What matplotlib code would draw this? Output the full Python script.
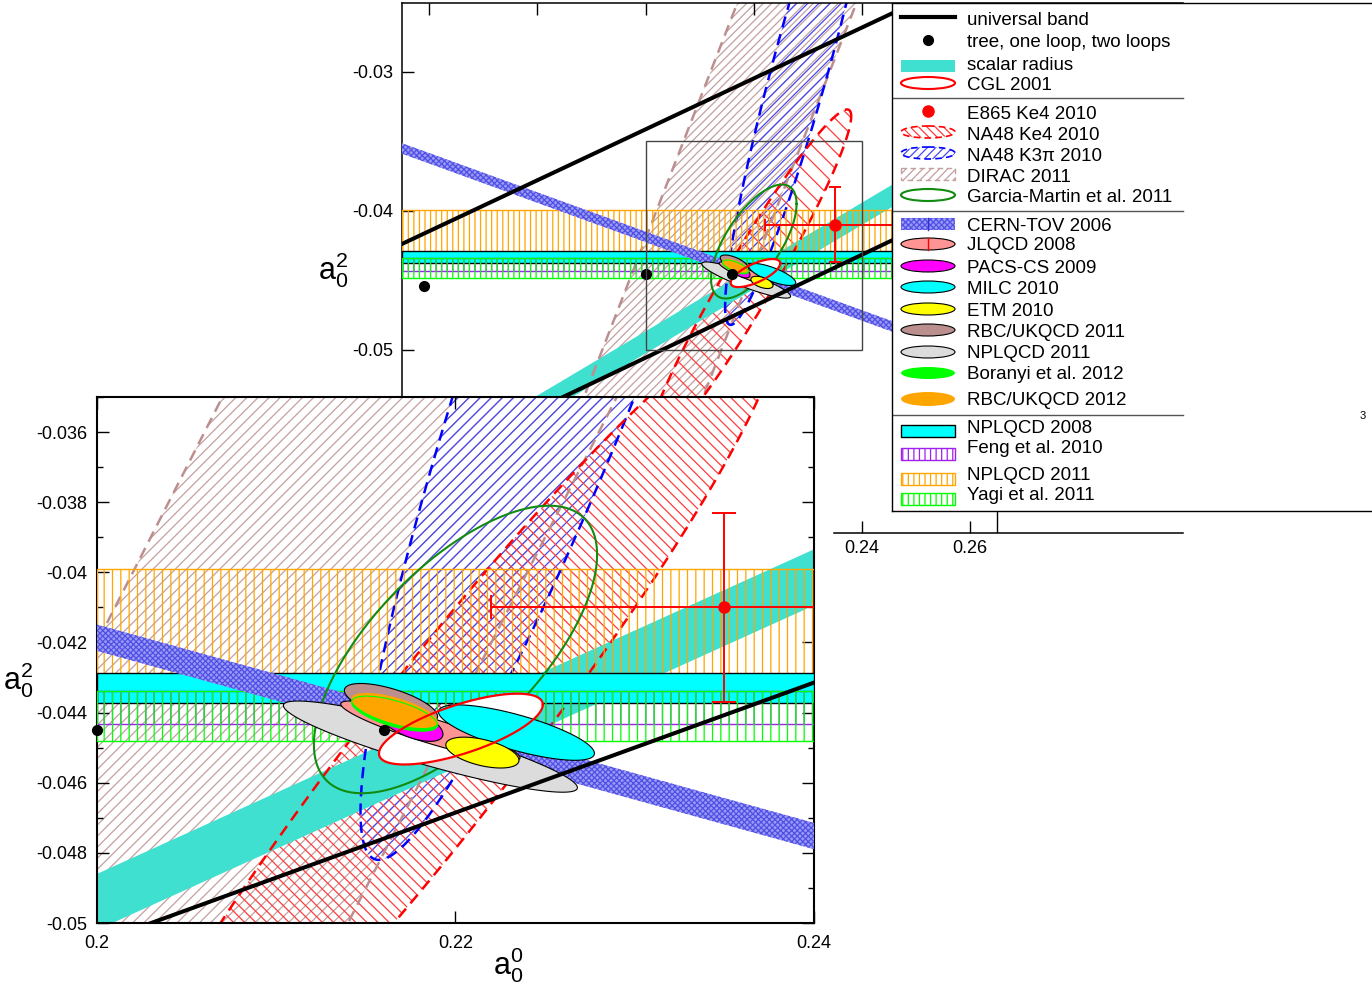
import numpy as np
import matplotlib
matplotlib.use('Agg')
import matplotlib.pyplot as plt
from matplotlib.patches import Ellipse, Rectangle
from matplotlib.ticker import MultipleLocator, FixedLocator, FuncFormatter

plt.rcParams['font.family'] = ['Liberation Sans', 'DejaVu Sans']
plt.rcParams['mathtext.fontset'] = 'custom'
plt.rcParams['mathtext.rm'] = 'Liberation Sans'
plt.rcParams['mathtext.it'] = 'Liberation Sans'
plt.rcParams['axes.unicode_minus'] = False
plt.rcParams['hatch.linewidth'] = 0.9

### Data (a0^0, a0^2)
# universal band edges, given at a0 = 0.15 and 0.30
ub_a0    = [0.15, 0.30]
ub_upper = [-0.04329, -0.01581]
ub_lower = [-0.05983, -0.03202]

# ChPT: tree, one loop, two loops
chpt_a0 = [0.159, 0.200, 0.216]
chpt_a2 = [-0.0454, -0.04451, -0.04451]

# scalar radius band
sr_a0    = [0.15, 0.30]
sr_upper = [-0.06017, -0.02546]
sr_lower = [-0.06177, -0.02706]

# CERN-TOV 2006 band
ct_a0    = [0.15, 0.30]
ct_upper = [-0.03442, -0.05563]
ct_lower = [-0.03517, -0.05638]

# DIRAC 2011: band in a0 - a2
dirac_diff = [0.242, 0.264]

# E865 Ke4 2010
e865_a0, e865_da0 = 0.235, 0.013
e865_a2, e865_da2 = -0.041, 0.0027

# ellipses: a0, da0, a2, da2, correlation
cgl       = (0.2203, 0.00457, -0.04447, 0.00101, 0.69)
garcia    = (0.2200, 0.0079, -0.0422, 0.0041, 0.66)
na48_ke4  = (0.2191, 0.0189, -0.0450, 0.0123, 0.96)
na48_k3pi = (0.2293, 0.0146, -0.0287, 0.0195, 0.93)

# lattice ellipses (drawing order)
lat_names = ['NPLQCD 2011', 'JLQCD 2008', 'RBC/UKQCD 2011', 'PACS-CS 2009',
             'Boranyi et al. 2012', 'RBC/UKQCD 2012', 'MILC 2010', 'ETM 2010']
lat_a0  = [0.2186, 0.2186, 0.2164, 0.2175, 0.2166, 0.2166, 0.2234, 0.2215]
lat_da0 = [0.0082, 0.0050, 0.0026, 0.0018, 0.0024, 0.0024, 0.00435, 0.00204]
lat_a2  = [-0.04497, -0.04452, -0.04374, -0.04431, -0.04403, -0.04394, -0.04457, -0.04514]
lat_da2 = [0.0013, 0.00085, 0.00057, 0.00051, 0.0005, 0.0005, 0.00079, 0.00044]
lat_rho = [-0.9, -0.9, -0.65, -0.6, -0.65, -0.65, -0.75, -0.5]
lat_face = ['#dcdcdc', '#ff9494', '#bc8f8f', '#ff00ff', '#00ff00', '#ffa500', '#00ffff', '#ffff00']
lat_edge = ['k', 'k', 'k', 'k', 'none', 'none', 'k', 'k']

# lattice a0^2 only (horizontal bands)
hb_names = ['NPLQCD 2008', 'Feng et al. 2010', 'NPLQCD 2011', 'Yagi et al. 2011']
hb_lo = [-0.04372, -0.04432, -0.0435, -0.04481]
hb_hi = [-0.04288, -0.04338, -0.0399, -0.04339]


def ell(p, n=400):
    x0, sx, y0, sy, r = p
    t = np.linspace(0, 2*np.pi, n)
    return x0 + sx*np.cos(t), y0 + sy*(r*np.cos(t) + np.sqrt(1 - r*r)*np.sin(t))


def draw_physics(ax, inset):
    red_h   = '\\' * 3 if inset else '\\' * 2
    blue_h  = '///'
    dirac_h = '///' if inset else '////'
    vert_h  = '||' if inset else '|||'
    dash = dict(lw=1.8, dashes=(4.5, 2.8))

    # DIRAC band
    a2 = np.array([-0.08, -0.01])
    xs = np.concatenate([a2 + dirac_diff[0], (a2 + dirac_diff[1])[::-1]])
    ys = np.concatenate([a2, a2[::-1]])
    ax.fill(xs, ys, facecolor='none', edgecolor='#c4a0a0', hatch=dirac_h, lw=0, zorder=1)
    # NA48 K3pi, NA48 Ke4
    x, y = ell(na48_k3pi)
    ax.fill(x, y, facecolor='none', edgecolor='#4848f0', hatch=blue_h, lw=0, zorder=1.1)
    x2, y2 = ell(na48_ke4)
    ax.fill(x2, y2, facecolor='none', edgecolor='#ff3c3c', hatch=red_h, lw=0, zorder=1.2)

    # scalar radius
    ax.fill_between(sr_a0, sr_lower, sr_upper, color='#40e0d0', lw=0, zorder=2)

    ax.plot(a2 + dirac_diff[0], a2, color='#bc8f8f', zorder=2.5, **dash)
    ax.plot(a2 + dirac_diff[1], a2, color='#bc8f8f', zorder=2.5, **dash)
    ax.plot(x, y, color='#0000ff', zorder=2.5, **dash)
    ax.plot(x2, y2, color='#ff0000', zorder=2.5, **dash)

    # horizontal lattice bands
    ax.axhspan(hb_lo[2], hb_hi[2], facecolor='none', edgecolor='#ffa500', hatch=vert_h, lw=1, zorder=3)
    ax.axhspan(hb_lo[0], hb_hi[0], facecolor='#00ffff', edgecolor='k', lw=1, zorder=3.1)
    ax.axhspan(hb_lo[1], hb_hi[1], facecolor='none', edgecolor='#a020f0', hatch=vert_h, lw=1, zorder=3.2)
    ax.axhspan(hb_lo[3], hb_hi[3], facecolor='none', edgecolor='#00ff00', hatch=vert_h, lw=1, zorder=3.3)

    # CERN-TOV
    ax.fill_between(ct_a0, ct_lower, ct_upper, facecolor='#9a9af4', edgecolor='#5050e6',
                    hatch='xxxxxx', lw=0, zorder=3.5)

    # Garcia-Martin
    x, y = ell(garcia)
    ax.plot(x, y, color='#118c11', lw=1.5, zorder=4)

    # E865
    ax.errorbar(e865_a0, e865_a2, xerr=e865_da0, yerr=e865_da2, fmt='o', color='#ff0000',
                ms=8, lw=1.4, capsize=8.5 if inset else 4.5, capthick=1.4, zorder=4.5)

    # lattice ellipses
    xc, yc = ell(cgl)
    for i in range(len(lat_names)):
        x, y = ell((lat_a0[i], lat_da0[i], lat_a2[i], lat_da2[i], lat_rho[i]))
        ax.fill(x, y, facecolor=lat_face[i], edgecolor=lat_edge[i], lw=0.8, zorder=5 + 0.1*i)
        if i == 0:
            ax.fill(xc, yc, facecolor='white', edgecolor='none', zorder=5.05)
        if i == 5:
            xb, yb = ell((lat_a0[4], lat_da0[4], lat_a2[4], lat_da2[4], lat_rho[4]))
            ax.plot(xb, yb, color='#00ff00', lw=0.8, zorder=5.55)
    ax.plot(xc, yc, color='#ff0000', lw=1.6, zorder=6)

    # universal band
    ax.plot(ub_a0, ub_upper, color='k', lw=2.9, zorder=6.5)
    ax.plot(ub_a0, ub_lower, color='k', lw=2.9, zorder=6.5)
    ax.plot(chpt_a0, chpt_a2, 'o', color='k', ms=7, zorder=7, clip_on=False)


fmt = FuncFormatter(lambda v, p: '%g' % round(v, 6))

fig = plt.figure(figsize=(13.72, 9.85), dpi=100)

### Main plot
ax = fig.add_axes([402/1372, 1 - 533/985, 781/1372, 530/985])
draw_physics(ax, inset=False)
ax.add_patch(Rectangle((0.2, -0.05), 0.04, 0.015, fill=False, ec='#444444', lw=1, zorder=8))
ax.plot([0.265, 0.265], [-0.0632, -0.06158], color='k', lw=1, zorder=8)
ax.set_xlim(0.155, 0.2993)
ax.set_ylim(-0.06317, -0.02504)
ax.xaxis.set_major_locator(FixedLocator([0.16, 0.18, 0.20, 0.22, 0.24, 0.26]))
ax.yaxis.set_major_locator(FixedLocator([-0.05, -0.04, -0.03]))
ax.xaxis.set_major_formatter(fmt)
ax.yaxis.set_major_formatter(fmt)
ax.tick_params(direction='in', length=8.5, width=1, labelsize=13, top=True, right=False)
ax.tick_params(axis='y', pad=6)
ax.tick_params(axis='x', pad=5)
ax.spines['right'].set_visible(False)
ax.spines['bottom'].set_bounds(0.2348, 0.2993)
for s in ax.spines.values():
    s.set_linewidth(1.1)
ax.set_ylabel(r'$\mathregular{a_0^2}$', fontsize=22, rotation=0, va='center', ha='center')
ax.yaxis.set_label_coords(-0.088, 0.496)

### Inset
axi = fig.add_axes([97/1372, 1 - 923/985, 717/1372, 526/985])
axi.set_facecolor('white')
draw_physics(axi, inset=True)
axi.set_xlim(0.2, 0.24)
axi.set_ylim(-0.05, -0.035)
axi.xaxis.set_major_locator(FixedLocator([0.2, 0.22, 0.24]))
axi.yaxis.set_major_locator(MultipleLocator(0.002))
axi.yaxis.set_minor_locator(MultipleLocator(0.001))
axi.xaxis.set_major_formatter(fmt)
axi.yaxis.set_major_formatter(fmt)
axi.tick_params(which='both', direction='in', top=True, right=True, labelsize=13)
axi.tick_params(which='major', length=8.5, width=1)
axi.tick_params(which='minor', length=4.5, width=1)
axi.tick_params(axis='x', pad=9)
axi.tick_params(axis='y', pad=7)
for s in axi.spines.values():
    s.set_linewidth(1.5)
axi.set_ylabel(r'$\mathregular{a_0^2}$', fontsize=22, rotation=0, va='center', ha='center')
axi.yaxis.set_label_coords(-0.110, 0.462)
axi.set_xlabel(r'$\mathregular{a_0^0}$', fontsize=22, va='center', ha='center')
axi.xaxis.set_label_coords(0.573, -0.080)

### Legend (drawn by hand in pixel units)
lg = fig.add_axes([892/1372, 1 - 511/985, 488/1372, 508/985])
lg.set_xlim(892, 1380)
lg.set_ylim(511, 3)
lg.set_xticks([])
lg.set_yticks([])
for s in lg.spines.values():
    s.set_linewidth(1)

leg_labels = ['universal band', 'tree, one loop, two loops', 'scalar radius', 'CGL 2001',
              'E865 Ke4 2010', 'NA48 Ke4 2010', 'NA48 K3\u03c0 2010', 'DIRAC 2011',
              'Garcia-Martin et al. 2011', 'CERN-TOV 2006', 'JLQCD 2008', 'PACS-CS 2009',
              'MILC 2010', 'ETM 2010', 'RBC/UKQCD 2011', 'NPLQCD 2011', 'Boranyi et al. 2012',
              'RBC/UKQCD 2012', 'NPLQCD 2008', 'Feng et al. 2010', 'NPLQCD 2011', 'Yagi et al. 2011']
leg_base = [25, 47, 70, 90, 119, 140, 161, 182, 202, 231, 250, 273, 294, 316, 337, 358,
            379, 405, 433, 453, 480, 500]
leg_sym = [17, 40, 66, 83, 111, 132, 153, 174, 195, 224, 244, 266, 287, 309, 330, 352,
           373, 399, 431, 454, 479, 499]
for lab, yb in zip(leg_labels, leg_base):
    lg.text(967, yb, lab, fontsize=13.5, va='baseline', ha='left')
for ys in [98, 211, 415]:
    lg.plot([892, 1183], [ys, ys], color='#555555', lw=1)

cx, w, h = 928, 54, 12
lg.plot([cx - 27, cx + 27], [leg_sym[0]] * 2, color='k', lw=3)
lg.plot(cx, leg_sym[1], 'o', color='k', ms=7)
lg.add_patch(Rectangle((cx - 27, leg_sym[2] - 6), w, h, fc='#40e0d0', ec='none'))
lg.add_patch(Ellipse((cx, leg_sym[3]), w, h, fc='white', ec='#ff0000', lw=1.5))
lg.plot(cx, leg_sym[4], 'o', color='#ff0000', ms=8)
lg.add_patch(Ellipse((cx, leg_sym[5]), w, h, fc='none', ec='#ff3c3c', hatch='\\' * 4, lw=0))
lg.add_patch(Ellipse((cx, leg_sym[5]), w, h, fc='none', ec='#ff0000', lw=1.2, ls=(0, (4, 2.5))))
lg.add_patch(Ellipse((cx, leg_sym[6]), w, h, fc='none', ec='#4848f0', hatch='////', lw=0))
lg.add_patch(Ellipse((cx, leg_sym[6]), w, h, fc='none', ec='#0000ff', lw=1.2, ls=(0, (4, 2.5))))
lg.add_patch(Rectangle((cx - 27, leg_sym[7] - 6), w, h, fc='none', ec='#c4a0a0', hatch='////', lw=1,
                       ls=(0, (4, 2.5))))
lg.add_patch(Ellipse((cx, leg_sym[8]), w, h, fc='none', ec='#118c11', lw=1.5))
lg.add_patch(Rectangle((cx - 27, leg_sym[9] - 6), w, h, fc='#9a9af4', ec='#5050e6', hatch='xxxxxx', lw=0))
lg.plot([cx, cx], [leg_sym[9] - 6, leg_sym[9] + 6], color='#3030d0', lw=1)
lg.add_patch(Ellipse((cx, leg_sym[10]), w, h, fc='#ff9494', ec='k', lw=0.8))
lg.plot([cx, cx], [leg_sym[10] - 6, leg_sym[10] + 6], color='#ff0000', lw=1)
for k, i in zip(range(11, 18), [3, 6, 7, 2, 0, 4, 5]):
    hh = 14 if k == 17 else h
    lg.add_patch(Ellipse((cx, leg_sym[k]), w, hh, fc=lat_face[i], ec=lat_edge[i], lw=0.8))
lg.add_patch(Rectangle((cx - 27, leg_sym[18] - 6), w, h, fc='#00ffff', ec='k', lw=1))
for k, c in zip([19, 20, 21], ['#a020f0', '#ffa500', '#00ff00']):
    lg.add_patch(Rectangle((cx - 27, leg_sym[k] - 6), w, h, fc='none', ec=c, hatch='|||', lw=1))

fig.text(1363/1372, 1 - 416/985, '3', fontsize=8, ha='center', va='center')

fig.savefig('out.png', dpi=100)
